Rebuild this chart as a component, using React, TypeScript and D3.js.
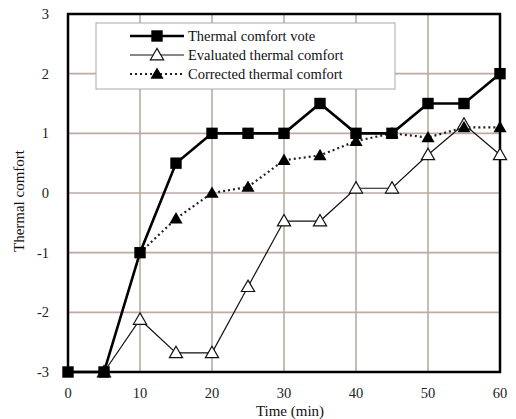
import React, { useEffect, useRef } from "react";
import * as d3 from "d3";

const times = [0, 5, 10, 15, 20, 25, 30, 35, 40, 45, 50, 55, 60];
const voteValues = [-3, -3, -1, 0.5, 1, 1, 1, 1.5, 1, 1, 1.5, 1.5, 2];
const evaluatedValues = [-3, -3, -2.12, -2.68, -2.68, -1.57, -0.47, -0.47, 0.08, 0.08, 0.64, 1.15, 0.64];
const correctedValues = [-3, -3, -1, -0.43, 0, 0.1, 0.55, 0.63, 0.87, 1.0, 0.93, 1.1, 1.1];
const xTicks = [0, 10, 20, 30, 40, 50, 60];
const yTicks = [-3, -2, -1, 0, 1, 2, 3];
const seriesNames = ["Thermal comfort vote", "Evaluated thermal comfort", "Corrected thermal comfort"];

const W = 516;
const H = 419;
const margin = { left: 68, top: 14, right: 16, bottom: 47 };
const font = "'Liberation Serif', 'Times New Roman', serif";

const App = () => {
    const ref = useRef<SVGSVGElement>(null);

    useEffect(() => {
        const svg = d3.select(ref.current);
        svg.selectAll("*").remove();

        const x = d3.scaleLinear().domain([0, 60]).range([margin.left, W - margin.right]);
        const y = d3.scaleLinear().domain([-3, 3]).range([H - margin.bottom, margin.top]);

        // grid
        const grid = svg.append("g").attr("stroke", "#bcaaa4").attr("stroke-width", 1.6);
        grid.selectAll("line.gx").data(xTicks).enter().append("line")
            .attr("x1", d => x(d)).attr("x2", d => x(d))
            .attr("y1", y(-3)).attr("y2", y(3));
        grid.selectAll("line.gy").data(yTicks).enter().append("line")
            .attr("y1", d => y(d)).attr("y2", d => y(d))
            .attr("x1", x(0)).attr("x2", x(60));

        // frame
        svg.append("rect")
            .attr("x", x(0)).attr("y", y(3))
            .attr("width", x(60) - x(0)).attr("height", y(-3) - y(3))
            .attr("fill", "none").attr("stroke", "#000").attr("stroke-width", 2.5);

        // tick labels
        svg.append("g").selectAll("text").data(yTicks).enter().append("text")
            .attr("x", x(0) - 19).attr("y", d => y(d)).attr("dy", "0.35em")
            .attr("text-anchor", "end")
            .style("font-family", font).style("font-size", "14.5px").attr("fill", "#222")
            .text(d => d < 0 ? "-" + Math.abs(d) : String(d));
        svg.append("g").selectAll("text").data(xTicks).enter().append("text")
            .attr("x", d => x(d)).attr("y", y(-3) + 26)
            .attr("text-anchor", "middle")
            .style("font-family", font).style("font-size", "14.5px").attr("fill", "#222")
            .text(d => String(d));

        // axis titles
        svg.append("text")
            .attr("x", 290).attr("y", 416)
            .attr("text-anchor", "middle")
            .style("font-family", font).style("font-size", "15px").attr("fill", "#111")
            .text("Time (min)");
        svg.append("text")
            .attr("transform", `translate(24,${y(0) + 8}) rotate(-90)`)
            .attr("text-anchor", "middle")
            .style("font-family", font).style("font-size", "15px").attr("fill", "#111")
            .text("Thermal comfort");

        const line = d3.line<[number, number]>().x(d => x(d[0])).y(d => y(d[1]));
        const tri = d3.symbol().type(d3.symbolTriangle).size(75);
        const sq = d3.symbol().type(d3.symbolSquare).size(130);

        const vote = times.map((t, i) => [t, voteValues[i]] as [number, number]);
        const evald = times.map((t, i) => [t, evaluatedValues[i]] as [number, number]).slice(1);
        const corr = times.map((t, i) => [t, correctedValues[i]] as [number, number]).slice(2);

        // evaluated (thin solid, open triangles)
        svg.append("path").attr("d", line(evald)).attr("fill", "none")
            .attr("stroke", "#111").attr("stroke-width", 1.2);
        // corrected (dotted, filled triangles)
        svg.append("path").attr("d", line(corr)).attr("fill", "none")
            .attr("stroke", "#222").attr("stroke-width", 2.2).attr("stroke-dasharray", "2,3");
        // vote (thick solid, squares)
        svg.append("path").attr("d", line(vote)).attr("fill", "none")
            .attr("stroke", "#000").attr("stroke-width", 2.6);

        svg.append("g").selectAll("path").data(evald).enter().append("path")
            .attr("d", tri).attr("transform", d => `translate(${x(d[0])},${y(d[1]) + 1})`)
            .attr("fill", "#fff").attr("stroke", "#111").attr("stroke-width", 1.2);
        svg.append("g").selectAll("path").data(corr.slice(1)).enter().append("path")
            .attr("d", tri).attr("transform", d => `translate(${x(d[0])},${y(d[1]) + 1})`)
            .attr("fill", "#000");
        svg.append("g").selectAll("path").data(vote).enter().append("path")
            .attr("d", sq).attr("transform", d => `translate(${x(d[0])},${y(d[1])})`)
            .attr("fill", "#000");

        // legend
        const lg = svg.append("g");
        lg.append("rect").attr("x", 96).attr("y", 23).attr("width", 299).attr("height", 66)
            .attr("fill", "#fff").attr("stroke", "#aaa").attr("stroke-width", 1);
        const rows = [36, 55, 74];
        lg.append("line").attr("x1", 130).attr("x2", 184).attr("y1", rows[0]).attr("y2", rows[0])
            .attr("stroke", "#000").attr("stroke-width", 2.6);
        lg.append("path").attr("d", sq).attr("transform", `translate(157,${rows[0]})`).attr("fill", "#000");
        lg.append("line").attr("x1", 130).attr("x2", 184).attr("y1", rows[1]).attr("y2", rows[1])
            .attr("stroke", "#111").attr("stroke-width", 1.2);
        lg.append("path").attr("d", tri).attr("transform", `translate(157,${rows[1] + 1})`)
            .attr("fill", "#fff").attr("stroke", "#111").attr("stroke-width", 1.2);
        lg.append("line").attr("x1", 130).attr("x2", 184).attr("y1", rows[2]).attr("y2", rows[2])
            .attr("stroke", "#222").attr("stroke-width", 2.2).attr("stroke-dasharray", "2,3");
        lg.append("path").attr("d", tri).attr("transform", `translate(157,${rows[2] + 1})`).attr("fill", "#000");
        lg.selectAll("text").data(seriesNames).enter().append("text")
            .attr("x", 188).attr("y", (d, i) => rows[i]).attr("dy", "0.35em")
            .style("font-family", font).style("font-size", "14.5px").attr("fill", "#111")
            .text(d => d);
    }, []);

    return (
        <svg ref={ref} width={W} height={H}
            style={{ position: "absolute", left: 0, top: 0, background: "#fff" }} />
    );
};

export default App;
